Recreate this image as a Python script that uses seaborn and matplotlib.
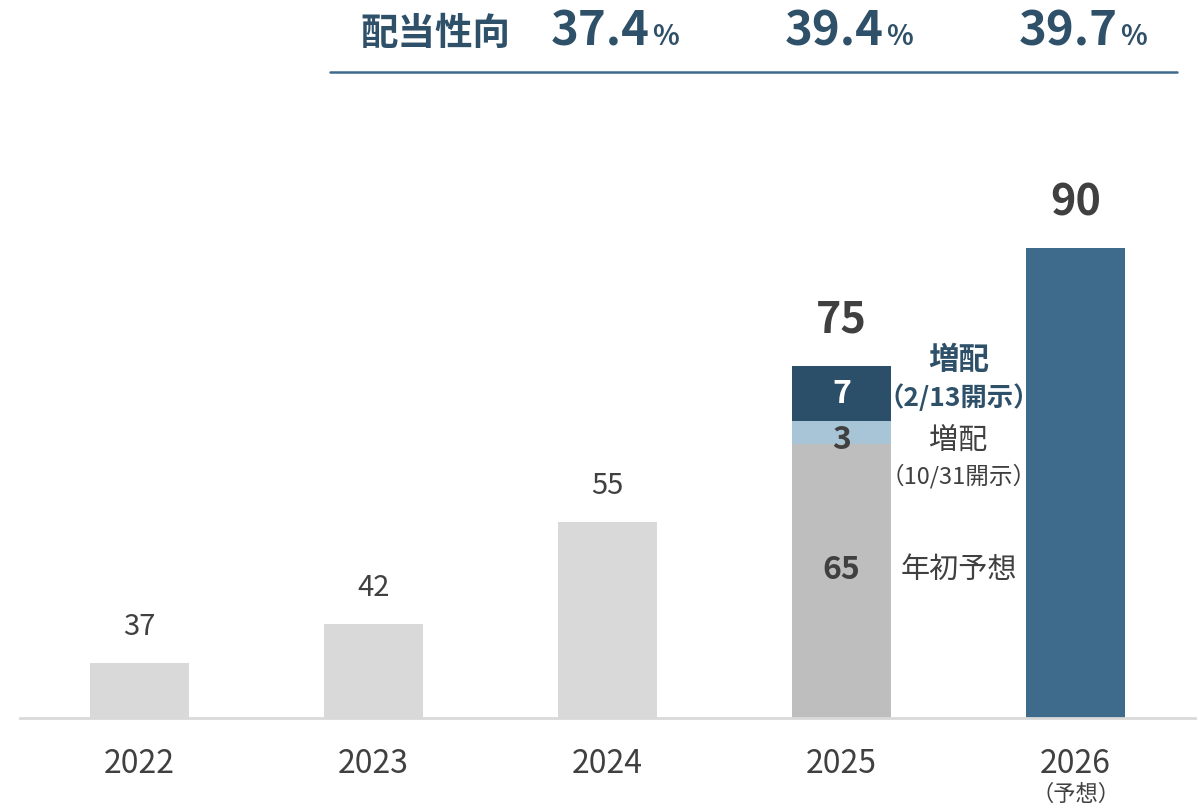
import matplotlib
matplotlib.use("Agg")
import matplotlib.pyplot as plt
import matplotlib.transforms as mtrans
from matplotlib import font_manager
import pandas as pd
import seaborn as sns

# データ
years = ["2022", "2023", "2024", "2025", "2026"]
dividends = [37, 42, 55, 75, 90]
base_2025 = 65        # 年初予想
hike_1031 = 3         # 増配(10/31開示)
hike_213 = 7          # 増配(2/13開示)
payout_years = ["2024", "2025", "2026"]
payout_ratio = ["37.4", "39.4", "39.7"]

bar_colors = ["#d9d9d9", "#d9d9d9", "#d9d9d9", "#2c4f69", "#3e6b8b"]
c_light = "#a8c5d8"
c_grey = "#bebebe"
c_text = "#404040"
c_head = "#2e5068"

sns.set_theme(style="white")
plt.rcParams["font.family"] = ["Noto Sans CJK JP", "DejaVu Sans"]

# 細めのフォントがあれば使う
installed = {f.name for f in font_manager.fontManager.ttflist}
narrow = [f for f in ["Liberation Sans Narrow", "DejaVu Sans Condensed"] if f in installed]
narrow = narrow + ["Noto Sans CJK JP", "DejaVu Sans"]
is_narrow = narrow[0] != "Noto Sans CJK JP"

fig = plt.figure(figsize=(11.98, 8.12), dpi=100)
ax = fig.add_axes([20 / 1198, 93 / 812, 1175 / 1198, 548 / 812])

df = pd.DataFrame({"year": years, "value": dividends})
sns.barplot(data=df, x="year", y="value", hue="year", palette=bar_colors,
            order=years, width=0.42, legend=False, saturation=1, linewidth=0, ax=ax)

# 2025年の積み上げ(重ね描き)
df_mid = pd.DataFrame({"year": ["2025"], "value": [base_2025 + hike_1031]})
sns.barplot(data=df_mid, x="year", y="value", order=years, color=c_light,
            width=0.42, saturation=1, linewidth=0, ax=ax)
df_base = pd.DataFrame({"year": ["2025"], "value": [base_2025]})
sns.barplot(data=df_base, x="year", y="value", order=years, color=c_grey,
            width=0.42, saturation=1, linewidth=0, ax=ax)

ax.set_ylim(30, 100)
ax.set_xlim(-0.51, 4.51)
ax.set_xlabel("")
ax.set_ylabel("")
ax.set_yticks([])
for s in ["top", "right", "left"]:
    ax.spines[s].set_visible(False)
ax.spines["bottom"].set_color("#d9d9d9")
ax.spines["bottom"].set_linewidth(2)
ax.tick_params(axis="x", length=0, pad=21, labelsize=23, labelcolor=c_text)

# 棒の上の数値
for i, v in enumerate(dividends):
    big = years[i] in ("2025", "2026")
    ax.annotate(str(v), (i, v), xytext=(0, 34 if big else 27), textcoords="offset points",
                ha="center", va="center", fontsize=31 if big else 21,
                fontweight="bold" if big else "normal", color=c_text)

# 2025 内訳
ax.text(3, base_2025 + hike_1031 + hike_213 / 2, str(hike_213), ha="center", va="center",
        fontsize=23, fontweight="bold", color="white")
ax.text(3, 65.6, str(hike_1031), ha="center", va="center",
        fontsize=23, fontweight="bold", color=c_text)
ax.text(3, 49, str(base_2025), ha="center", va="center",
        fontsize=23, fontweight="bold", color=c_text)

ax.text(3.5, 75.9, "増配", ha="center", va="center", fontsize=22,
        fontweight="bold", color=c_head)
ax.text(3.5, 71.0, "（2/13開示）", ha="center", va="center", fontsize=19,
        fontweight="bold", color=c_head)
ax.text(3.5, 65.5, "増配", ha="center", va="center", fontsize=21, color=c_text)
ax.text(3.5, 61.0, "（10/31開示）", ha="center", va="center", fontsize=17, color=c_text)
ax.text(3.5, 49.0, "年初予想", ha="center", va="center", fontsize=21, color=c_text)

trans = mtrans.blended_transform_factory(ax.transData, ax.transAxes)
ax.text(4, -0.138, "（予想）", transform=trans, ha="center", va="center",
        fontsize=16, color=c_text)

# 配当性向ヘッダー
fig.text(435 / 1198, 1 - 33 / 812, "配当性向", ha="center", va="center",
         fontsize=27, fontweight="bold", color=c_head)
for yr, p in zip(payout_years, payout_ratio):
    xc = 139 + 234 * years.index(yr)
    fig.text((xc + 43) / 1198, 1 - 32 / 812, p, ha="right", va="center",
             fontsize=40 if is_narrow else 34, fontweight="bold", color=c_head,
             family=narrow)
    fig.text((xc + 45) / 1198, 1 - 37 / 812, "%", ha="left", va="center",
             fontsize=20, fontweight="bold", color=c_head, family=narrow)
fig.add_artist(plt.Line2D([330 / 1198, 1177 / 1198], [1 - 73 / 812, 1 - 73 / 812],
                          color="#3e6b8b", linewidth=1.8, transform=fig.transFigure))

fig.savefig("out.png", dpi=100, facecolor="white")
